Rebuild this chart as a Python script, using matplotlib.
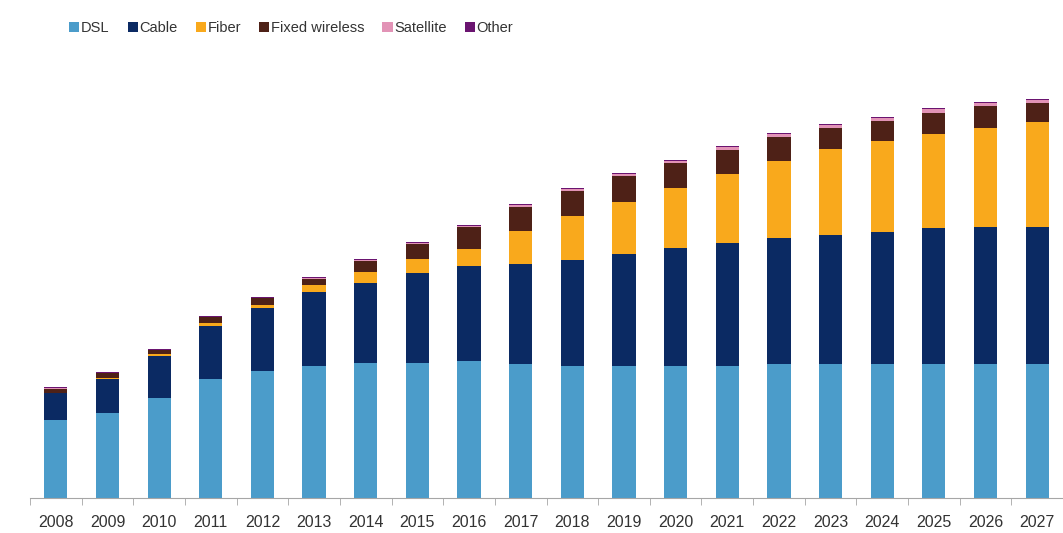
import matplotlib.pyplot as plt
import numpy as np

years = [str(y) for y in range(2008, 2028)]

# subscriber counts per access technology (stacked, bottom to top)
dsl = [78, 85, 100, 119, 127, 132, 135, 135, 137, 134, 132, 132, 132, 132, 134, 134, 134, 134, 134, 134]
cable = [27, 34, 42, 53, 63, 74, 80, 90, 95, 100, 106, 112, 118, 123, 126, 129, 132, 136, 137, 137]
fiber = [0.5, 1, 2, 3, 3, 7, 11, 14, 17, 33, 44, 52, 60, 69, 77, 86, 91, 94, 99, 105]
fixed_wireless = [4, 5, 4, 6, 7, 6, 11, 15, 22, 24, 25, 26, 25, 24, 24, 21, 20, 21, 22, 19]
satellite = [0.5, 0.5, 0.5, 0.5, 0.5, 1, 1, 1, 1, 2, 2, 2, 2, 3, 3, 3, 3, 4, 3, 3]
other = [1, 1, 1, 1, 1, 1, 1, 1, 1, 1, 1, 1, 1, 1, 1, 1, 1, 1, 1, 1]

series = [
    ("DSL", dsl, "#4b9cca"),
    ("Cable", cable, "#0b2a63"),
    ("Fiber", fiber, "#f9a91c"),
    ("Fixed wireless", fixed_wireless, "#4e2117"),
    ("Satellite", satellite, "#e293b6"),
    ("Other", other, "#6a1470"),
]

plt.rcParams['font.family'] = ['Liberation Sans', 'DejaVu Sans']

fig = plt.figure(figsize=(10.63, 5.33), dpi=100)
ax = fig.add_axes([30 / 1063, 35 / 533, 1 - 30 / 1063, 438 / 533])

x = np.arange(len(years))
bottom = np.zeros(len(years))
for name, vals, color in series:
    ax.bar(x, vals, width=0.45, bottom=bottom, color=color, label=name)
    bottom += np.array(vals)

ax.set_xlim(-0.5, len(years) - 0.5)
ax.set_ylim(0, 438)
ax.set_yticks([])
for side in ["top", "right", "left"]:
    ax.spines[side].set_visible(False)
ax.spines["bottom"].set_color("#a6a6a6")
ax.set_xticks(x)
ax.set_xticklabels(years, fontsize=11.5, color="#333333")
ax.set_xticks(np.arange(-0.5, len(years)), minor=True)
ax.tick_params(axis="x", which="major", length=0, pad=12)
ax.tick_params(axis="x", which="minor", length=5, color="#a6a6a6")

fig.legend(loc="upper left", bbox_to_anchor=(56 / 1063, 1 - 8 / 533), ncol=6, frameon=False,
           fontsize=10.5, handlelength=0.7, handleheight=0.7, handletextpad=0.1,
           columnspacing=1.25, labelcolor="#333333")

plt.savefig("out.png", dpi=100)
plt.close()
